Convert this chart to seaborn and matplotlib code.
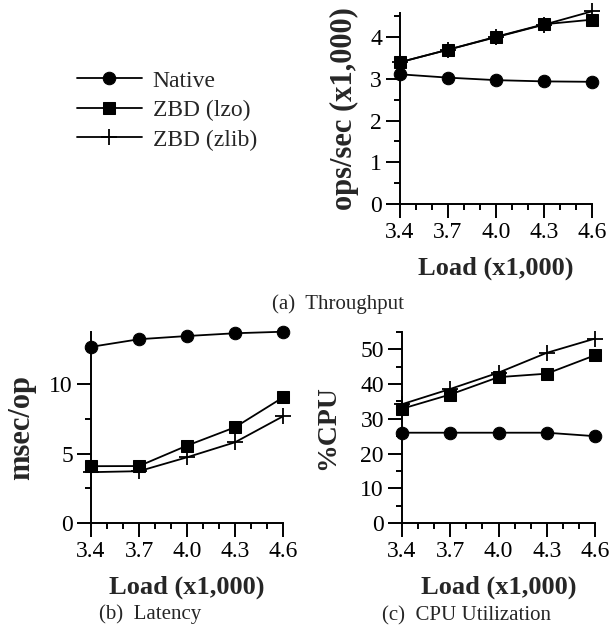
import matplotlib
matplotlib.use("Agg")
import matplotlib.pyplot as plt
import seaborn as sns
import pandas as pd
from matplotlib.ticker import MultipleLocator

load = [3.4, 3.7, 4.0, 4.3, 4.6]
series = ["Native", "ZBD (lzo)", "ZBD (zlib)"]

thr_native = [3.11, 3.03, 2.97, 2.94, 2.93]
thr_lzo = [3.40, 3.70, 4.01, 4.31, 4.42]
thr_zlib = [3.40, 3.70, 4.00, 4.30, 4.62]

lat_native = [12.68, 13.23, 13.46, 13.66, 13.77]
lat_lzo = [4.09, 4.10, 5.57, 6.89, 9.04]
lat_zlib = [3.66, 3.73, 4.73, 5.81, 7.68]

cpu_native = [26.0, 26.0, 26.0, 26.0, 25.0]
cpu_lzo = [32.9, 37.0, 42.0, 43.0, 48.3]
cpu_zlib = [34.2, 38.6, 43.3, 49.0, 53.1]

xticks = [3.4, 3.7, 4.0, 4.3, 4.6]
xticklabels = ["3.4", "3.7", "4.0", "4.3", "4.6"]

sns.set_theme(style="ticks")
plt.rcParams["font.family"] = ["Liberation Serif", "DejaVu Serif"]
plt.rcParams["axes.linewidth"] = 1.4
for k in ["xtick.major.width", "ytick.major.width", "xtick.minor.width", "ytick.minor.width"]:
    plt.rcParams[k] = 1.4
plt.rcParams["xtick.major.size"] = 10
plt.rcParams["ytick.major.size"] = 10
plt.rcParams["xtick.minor.size"] = 4
plt.rcParams["ytick.minor.size"] = 4
plt.rcParams["xtick.color"] = "black"
plt.rcParams["ytick.color"] = "black"
plt.rcParams["axes.edgecolor"] = "black"

fig = plt.figure(figsize=(6.09, 6.39), dpi=100)
W, H = 609, 639

def make_ax(x0, x1, ytop, ybot):
    return fig.add_axes([x0 / W, (H - ybot) / H, (x1 - x0) / W, (ybot - ytop) / H])

ax_a = make_ax(400, 592, 13, 204)
ax_b = make_ax(91, 283, 332, 523)
ax_c = make_ax(402, 595, 332, 523)

styles = {
    "Native": dict(marker="o", markersize=9),
    "ZBD (lzo)": dict(marker="s", markersize=8.5),
    "ZBD (zlib)": dict(marker="+", markersize=11, markeredgewidth=1.3),
}

def draw(ax, vals, ylim, ymaj, ymin, ylabel, ylsize, ylx):
    for name, v in zip(series, vals):
        df = pd.DataFrame({"load": load, "val": v})
        sns.lineplot(data=df, x="load", y="val", ax=ax, color="black",
                     linewidth=1.3, label=name, legend=False,
                     markeredgecolor="black", markerfacecolor="black",
                     **styles[name])
    for ln in ax.lines:
        ln.set_clip_on(False)
    ax.set_xlim(3.4, 4.6)
    ax.set_ylim(*ylim)
    ax.set_xticks(xticks)
    ax.set_xticklabels(xticklabels)
    ax.xaxis.set_minor_locator(MultipleLocator(0.1))
    ax.yaxis.set_major_locator(MultipleLocator(ymaj))
    ax.yaxis.set_minor_locator(MultipleLocator(ymin))
    ax.tick_params(axis="both", which="both", direction="out", labelsize=17, pad=3)
    ax.set_xlabel("Load (x1,000)", fontsize=19, fontweight="bold", labelpad=10)
    ax.set_ylabel(ylabel, fontsize=ylsize, fontweight="bold", va="center")
    ax.yaxis.set_label_coords(ylx, 0.5)
    sns.despine(ax=ax)

draw(ax_a, [thr_native, thr_lzo, thr_zlib], (0, 4.58), 1, 0.5, "ops/sec (x1,000)", 22, -0.29)
draw(ax_b, [lat_native, lat_lzo, lat_zlib], (0, 13.75), 5, 2.5, "msec/op", 22, -0.36)
draw(ax_c, [cpu_native, cpu_lzo, cpu_zlib], (0, 55), 10, 5, "%CPU", 20, -0.385)

handles = ax_a.lines[:3]
fig.legend(handles, series, loc="upper left", bbox_to_anchor=(77 / W, (H - 70) / H),
           frameon=False, fontsize=17, handlelength=2.75, handletextpad=0.45,
           labelspacing=0.34, borderpad=0, borderaxespad=0)

fig.text(338 / W, (H - 304) / H, "(a)  Throughput", ha="center", va="center", fontsize=15)
fig.text(150 / W, (H - 614) / H, "(b)  Latency", ha="center", va="center", fontsize=15)
fig.text(467 / W, (H - 616) / H, "(c)  CPU Utilization", ha="center", va="center", fontsize=15)

fig.savefig("out.png", dpi=100)
